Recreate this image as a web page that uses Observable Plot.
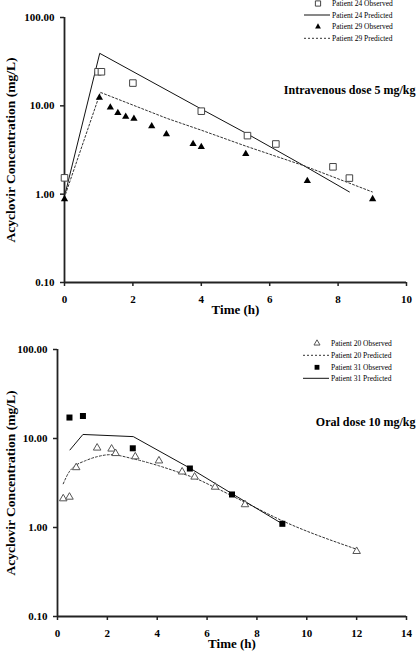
<!DOCTYPE html>
<html>
<head>
<meta charset="utf-8">
<script src="https://cdn.jsdelivr.net/npm/d3@7"></script>
<script src="https://cdn.jsdelivr.net/npm/@observablehq/plot@0.6"></script>
<style>
  html, body { margin: 0; padding: 0; background: #fff; }
  #wrap { position: relative; width: 416px; height: 658px; overflow: hidden; font-family: "Liberation Serif", "Times New Roman", serif; }
  #wrap svg.plot { position: absolute; left: 0; }
  #wrap [aria-label$="tick label"] text, #wrap [aria-label$="tick label"] { font-weight: bold; }
  #legend { position: absolute; left: 0; top: 0; pointer-events: none; }
</style>
</head>
<body>
<div id="wrap"></div>
<script>
// ---------- Data ----------
// Intravenous dose 5 mg/kg
const p24ObsT  = [0, 0.98, 1.08, 2.0, 4.0, 5.35, 6.18, 7.85, 8.33];
const p24ObsC  = [1.53, 24.3, 24.3, 18.1, 8.7, 4.6, 3.7, 2.04, 1.52];
const p24PredT = [0.03, 1.03, 4.0, 5.35, 7.0, 8.33];
const p24PredC = [1.05, 39.3, 9.2, 4.8, 2.1, 1.06];
const p29ObsT  = [0, 1.02, 1.34, 1.56, 1.79, 2.03, 2.55, 2.98, 3.76, 4.0, 5.3, 7.1, 9.01];
const p29ObsC  = [0.88, 12.4, 9.6, 8.3, 7.55, 7.17, 5.88, 4.77, 3.70, 3.42, 2.85, 1.41, 0.88];
const p29PredT = [0.03, 1.05, 2.0, 3.0, 4.0, 5.3, 7.0, 9.0];
const p29PredC = [1.0, 14.2, 10.2, 7.2, 5.3, 3.5, 2.1, 1.06];
// Oral dose 10 mg/kg
const p20ObsT  = [0.23, 0.48, 0.75, 1.59, 2.17, 2.33, 3.12, 4.07, 5.0, 5.5, 6.32, 7.52, 12.0];
const p20ObsC  = [2.11, 2.2, 4.72, 7.84, 7.64, 6.8, 6.25, 5.62, 4.22, 3.7, 2.85, 1.81, 0.54];
const p20PredT = [0.23, 0.45, 0.75, 1.1, 1.59, 2.13, 3.07, 4.07, 5.0, 5.47, 6.28, 7.52, 9.02, 12.0];
const p20PredC = [3.1, 4.14, 5.02, 5.6, 6.25, 6.58, 5.88, 4.93, 4.04, 3.63, 2.85, 1.92, 1.19, 0.57];
const p31ObsT  = [0.48, 1.02, 3.02, 5.31, 7.0, 9.02];
const p31ObsC  = [17.2, 17.9, 7.76, 4.6, 2.35, 1.1];
const p31PredT = [0.5, 1.02, 3.04, 5.31, 7.0, 9.02];
const p31PredC = [7.44, 11.1, 10.5, 4.65, 2.4, 1.1];

const yTicks = [0.1, 1, 10, 100];
const xTicksIV = [0, 2, 4, 6, 8, 10];
const xTicksOral = [0, 2, 4, 6, 8, 10, 12, 14];
const yLabel = "Acyclovir Concentration (mg/L)";
const xLabel = "Time (h)";
const ivTitle = "Intravenous dose 5 mg/kg";
const oralTitle = "Oral dose 10 mg/kg";
const ivLegend = ["Patient 24 Observed", "Patient 24 Predicted", "Patient 29 Observed", "Patient 29 Predicted"];
const oralLegend = ["Patient 20 Observed", "Patient 20 Predicted", "Patient 31 Observed", "Patient 31 Predicted"];

const zip = (T, C) => T.map((t, i) => ({t, c: C[i]}));

// ---------- Styles ----------
const FONT = "Liberation Serif, Times New Roman, serif";
const solid = {stroke: "#111", strokeWidth: 1};
const dashed = {stroke: "#333", strokeWidth: 1, strokeDasharray: "2,2"};
const openSquare = {symbol: "square", r: 3.7, fill: "#fff", stroke: "#444", strokeWidth: 1};
const filledSquare = {symbol: "square", r: 3.4, fill: "#000", stroke: "none"};
const filledTri = {symbol: "triangle", r: 2.7, fill: "#000", stroke: "none"};
const openTri = {symbol: "triangle", r: 2.8, fill: "#fff", stroke: "#555", strokeWidth: 1};

function panel({xDomain, xTicks, marginLeft, marginTop, marginBottom, height, title, series}) {
  return Plot.plot({
    width: 416, height,
    marginLeft, marginRight: 10, marginTop, marginBottom,
    style: {fontFamily: FONT, fontSize: "11px", color: "#000", background: "transparent"},
    x: {domain: xDomain},
    y: {type: "log", domain: [0.1, 100]},
    marks: [
      Plot.axisY({ticks: yTicks, tickFormat: d => d.toFixed(2), tickSize: 4, tickPadding: 6, label: null, fontWeight: "bold", fontSize: 11, stroke: "#222", strokeWidth: 1.5}),
      Plot.axisX({ticks: xTicks, tickFormat: d => String(d), tickSize: 4, tickPadding: 9, label: null, fontWeight: "bold", fontSize: 11, stroke: "#222", strokeWidth: 1.5}),
      Plot.ruleX([xDomain[0]], {stroke: "#222", strokeWidth: 1.8}),
      Plot.ruleY([0.1], {stroke: "#222", strokeWidth: 1.8}),
      ...series,
      Plot.text([xLabel], {text: d => d, frameAnchor: "bottom", dy: 31, fontWeight: "bold", fontSize: 13, fill: "#000"}),
      Plot.text([yLabel], {text: d => d, frameAnchor: "left", textAnchor: "middle", rotate: -90, dx: -(marginLeft - 10), fontWeight: "bold", fontSize: 13.5, fill: "#000"}),
      Plot.text([title], {text: d => d, frameAnchor: "top-right", textAnchor: "end", dx: 9, dy: 68, fontWeight: "bold", fontSize: 12, fill: "#000"})
    ]
  });
}

const wrap = document.getElementById("wrap");

const ivPlot = panel({
  xDomain: [0, 10], xTicks: xTicksIV, marginLeft: 64, marginTop: 17, marginBottom: 47, height: 329,
  title: ivTitle,
  series: [
    Plot.line(zip(p24PredT, p24PredC), {x: "t", y: "c", ...solid}),
    Plot.line(zip(p29PredT, p29PredC), {x: "t", y: "c", ...dashed}),
    Plot.dot(zip(p24ObsT, p24ObsC), {x: "t", y: "c", ...openSquare}),
    Plot.dot(zip(p29ObsT, p29ObsC), {x: "t", y: "c", ...filledTri})
  ]
});
ivPlot.classList.add("plot");
ivPlot.style.top = "0px";
wrap.appendChild(ivPlot);

const oralPlot = panel({
  xDomain: [0, 14], xTicks: xTicksOral, marginLeft: 57, marginTop: 20, marginBottom: 42, height: 329,
  title: oralTitle,
  series: [
    Plot.line(zip(p20PredT, p20PredC), {x: "t", y: "c", curve: "monotone-x", ...dashed}),
    Plot.line(zip(p31PredT, p31PredC), {x: "t", y: "c", ...solid}),
    Plot.dot(zip(p20ObsT, p20ObsC), {x: "t", y: "c", ...openTri}),
    Plot.dot(zip(p31ObsT, p31ObsC), {x: "t", y: "c", ...filledSquare})
  ]
});
oralPlot.classList.add("plot");
oralPlot.style.top = "329px";
wrap.appendChild(oralPlot);

// ---------- Legends (overlay) ----------
const lg = d3.select(wrap).append("svg").attr("id", "legend").attr("width", 416).attr("height", 658);
function sym(type, r) { return d3.symbol(type, Math.PI * r * r)(); }
function drawLegend(items, styles, x0, rows) {
  items.forEach((label, i) => {
    const s = styles[i];
    const y = rows[i];
    const g = lg.append("g");
    if (s.kind === "line") {
      g.append("line").attr("x1", x0 - 27).attr("x2", x0 - 1).attr("y1", y).attr("y2", y)
        .attr("stroke", s.stroke).attr("stroke-width", s.strokeWidth).attr("stroke-dasharray", s.strokeDasharray || null);
    } else {
      g.append("path").attr("transform", `translate(${x0 - 13},${y})`)
        .attr("d", sym(s.symbol === "square" ? d3.symbolSquare : d3.symbolTriangle, s.r * 0.8))
        .attr("fill", s.fill).attr("stroke", s.stroke === "none" ? null : s.stroke).attr("stroke-width", s.strokeWidth || null);
    }
    g.append("text").attr("x", x0 + 1).attr("y", y).attr("dy", "0.35em")
      .attr("font-family", FONT).attr("font-size", 7.5).attr("fill", "#000").text(label);
  });
}
drawLegend(ivLegend,
  [{kind: "dot", ...openSquare}, {kind: "line", ...solid}, {kind: "dot", ...filledTri}, {kind: "line", ...dashed}],
  331, [3.5, 15, 26.7, 38.3]);
drawLegend(oralLegend,
  [{kind: "dot", ...openTri}, {kind: "line", ...dashed}, {kind: "dot", ...filledSquare}, {kind: "line", ...solid}],
  330, [343.3, 355.3, 367.3, 378.3]);
</script>
</body>
</html>
